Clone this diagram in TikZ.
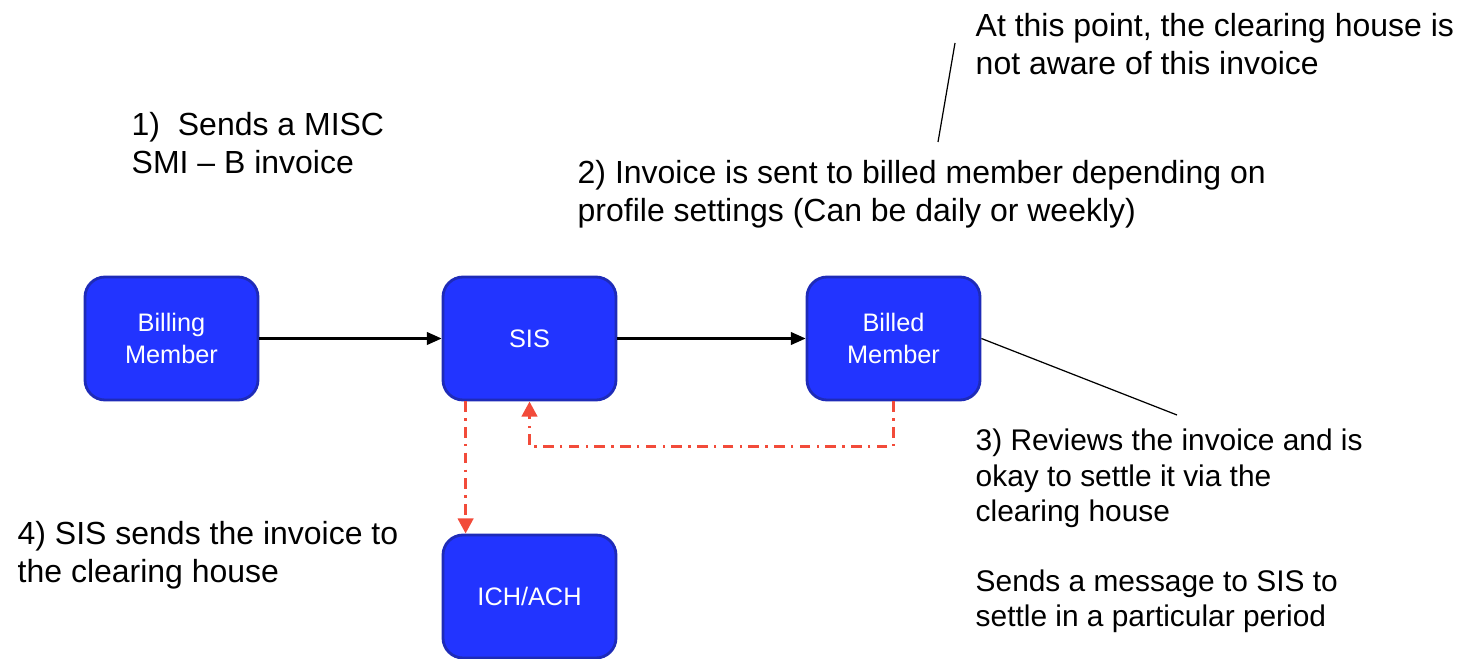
\documentclass[tikz,border=0pt]{standalone}
\usepackage{fontspec}
\setmainfont{Liberation Sans}
\usetikzlibrary{arrows.meta}

\definecolor{boxblue}{HTML}{2234FF}
\definecolor{boxborder}{HTML}{1E2BB8}
\definecolor{flowred}{HTML}{F24B3A}

\begin{document}
\begin{tikzpicture}[
    box/.style={rectangle, rounded corners=0.2cm, draw=boxborder, thick,
                fill=boxblue, text=white, minimum width=1.73cm,
                minimum height=1.23cm, align=center, inner sep=0pt,
                font=\fontsize{7.2}{9.1}\selectfont},
    conn/.style={-{Triangle[length=4.2pt, width=3.6pt]}, black, line width=0.6pt},
    flow/.style={-{Triangle[length=4.3pt, width=4.3pt]}, flowred, line width=1pt,
                 dash pattern=on 3pt off 1.8pt on 0.7pt off 1.8pt},
    note/.style={-, black, line width=0.35pt},
    lbl/.style={anchor=west, align=left, inner sep=0pt,
                font=\fontsize{9.1}{10.7}\selectfont},
]
\useasboundingbox (0,0) rectangle (14.67,6.58);

% --- Boxes ---
\node[box] (bill) at (1.715, 3.195) {Billing\\Member};
\node[box] (sis) at (5.295, 3.195) {SIS};
\node[box] (billed) at (8.935, 3.195) {Billed\\Member};
\node[box] (ich) at (5.295, 0.615) {ICH/ACH};

% --- Labels ---
\node[lbl] (step1) at (1.31, 5.15) {1)\ \ Sends a MISC\\SMI -- B invoice};
\node[lbl] (step2) at (5.77, 4.64) {2) Invoice is sent to billed member depending on\\profile settings (Can be daily or weekly)};
\node[lbl] (remark) at (9.75, 6.14) {At this point, the clearing house is\\not aware of this invoice};
\node[lbl, font=\fontsize{8.5}{10}\selectfont] (step3) at (9.75, 1.27)
    {3) Reviews the invoice and is\\okay to settle it via the\\clearing house\\[10pt]Sends a message to SIS to\\settle in a particular period};
\node[lbl] (step4) at (0.17, 1.03) {4) SIS sends the invoice to\\the clearing house};

% --- Callout ends ---
\coordinate (remtip) at (9.55, 6.15);
\coordinate (remfoot) at (9.38, 5.16);
\coordinate (revtip) at (11.77, 2.43);

% --- Connections ---
\draw[conn] (bill) -- (sis);
\draw[conn] (sis) -- (billed);
\draw[flow] (billed.south) -- ++(0,-0.45) -| (sis.south);
\draw[flow] ([xshift=0.24cm]sis.south west) -- ([xshift=0.24cm]ich.north west);

% --- Callouts ---
\draw[note] (billed.east) -- (revtip);
\draw[note] (remfoot) -- (remtip);

\end{tikzpicture}
\end{document}
